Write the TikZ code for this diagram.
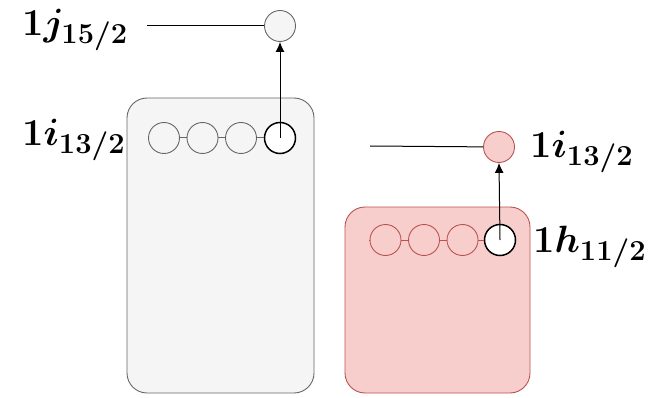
\RequirePackage{fix-cm}
\documentclass[tikz,border=0pt]{standalone}
\usetikzlibrary{arrows.meta}
\definecolor{boxgray}{HTML}{F5F5F5}
\definecolor{edgegray}{HTML}{666666}
\definecolor{boxred}{HTML}{F8CECC}
\definecolor{edgered}{HTML}{B85450}
% large labels with fairly big subscripts
\DeclareMathSizes{38}{38}{29}{23}
\tikzset{
  shell/.style={draw, rounded corners=20pt, line width=0.9pt, inner sep=0pt},
  orb/.style={circle, draw, minimum size=31pt, inner sep=0pt, line width=0.9pt},
  hole/.style={orb, fill=white, draw=black, line width=1.5pt},
  lvl/.style={font=\fontsize{38}{44}\selectfont\boldmath, inner sep=0pt},
  link/.style={line width=1pt},
  jump/.style={line width=1pt, -{Latex[length=10pt,width=9pt]}}
}
\begin{document}
\begin{tikzpicture}[x=1pt,y=-1pt]
\useasboundingbox (0,0) rectangle (650,398);
% shell boxes
\node[shell, draw=edgegray, fill=boxgray, minimum width=187pt, minimum height=295pt] (gbox) at (220.5,245.5) {};
\node[shell, draw=edgered, fill=boxred, minimum width=185pt, minimum height=186pt] (rbox) at (437.5,300) {};
% neutron orbitals
\node[orb, draw=edgegray] (g1) at (164,138) {};
\node[orb, draw=edgegray] (g2) at (202.5,138) {};
\node[orb, draw=edgegray] (g3) at (241,138) {};
\node[hole] (g4) at (280,138) {};
\coordinate (gstub) at (148,138);
\draw[link, draw=edgegray] (gstub) -- (g1) (g1) -- (g2) (g2) -- (g3) (g3) -- (g4);
\node[orb, draw=edgegray, fill=boxgray] (gt) at (280,26) {};
\coordinate (gline) at (147,26);
\draw[link] (gline) -- (gt);
\draw[jump] (g4.center) -- (gt.south);
% proton orbitals
\node[orb, draw=edgered] (r1) at (385.5,240) {};
\node[orb, draw=edgered] (r2) at (424,240) {};
\node[orb, draw=edgered] (r3) at (462.5,240) {};
\node[hole] (r4) at (500,240) {};
\coordinate (rstub) at (369,240);
\draw[link, draw=edgered] (rstub) -- (r1) (r1) -- (r2) (r2) -- (r3) (r3) -- (r4);
\node[orb, draw=edgered, fill=boxred] (rt) at (499,147) {};
\coordinate (rline) at (370,146);
\draw[link] (rline) -- (rt);
\draw[jump] (r4.center) -- (rt.south);
% level labels
\node[lvl, anchor=west] (lj) at (22,30) {$1j_{15/2}$};
\node[lvl, anchor=west] (li) at (22,140) {$1i_{13/2}$};
\node[lvl, anchor=west] (ri) at (530,152) {$1i_{13/2}$};
\node[lvl, anchor=west] (rh) at (533,247) {$1h_{11/2}$};
\end{tikzpicture}
\end{document}
